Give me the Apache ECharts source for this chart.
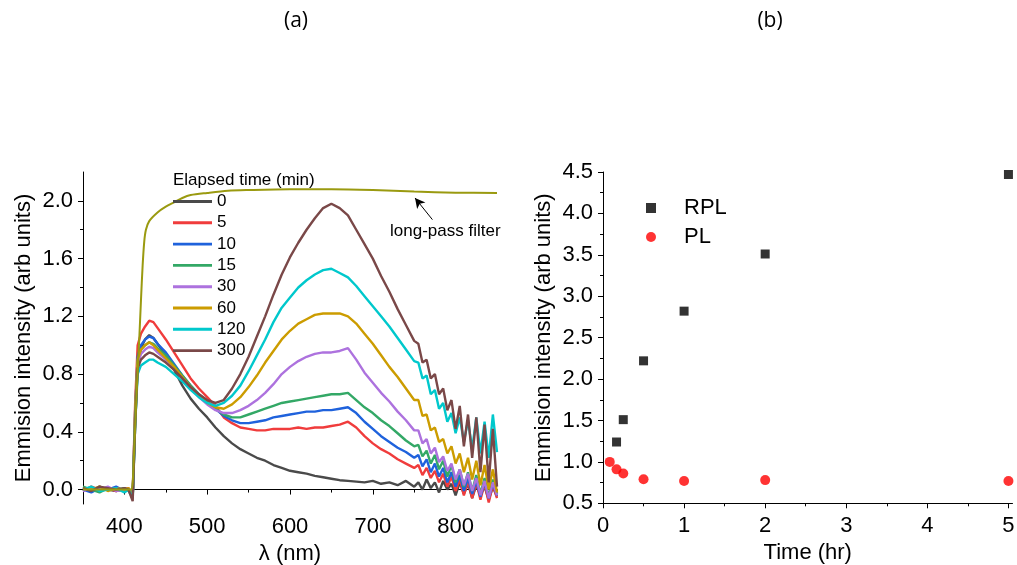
<!DOCTYPE html>
<html><head><meta charset="utf-8">
<script src="https://cdn.jsdelivr.net/npm/echarts@6/dist/echarts.min.js"></script>
<style>html,body{margin:0;padding:0;background:#fff}#c{width:1017px;height:565px}</style>
</head><body><div id="c"></div>
<script>
// ---- Panel (a) data ----
const wl = [350,360,370,380,390,400,405,410,413,416,420,425,430,435,
440,450,460,470,480,490,500,510,520,530,540,550,560,570,580,590,600,610,620,630,640,650,660,670,680,690,700,710,720,730,740,750,
755,760,765,770,775,780,785,790,795,800,805,810,815,820,825,830,835,840,845,850];
const seriesNames = ['0','5','10','15','30','60','120','300'];
const s0 = [0.01,-0.01,0.02,0.0,-0.01,0.01, 0.0,-0.05,0.45,0.85,0.98,1.04,1.07,1.05,
1.01,0.93,0.83,0.72,0.63,0.56,0.5,0.43,0.37,0.32,0.28,0.25,0.22,0.2,0.17,0.15,0.13,0.12,0.11,0.095,0.085,0.075,0.065,0.06,0.055,0.05,0.06,0.04,0.05,0.03,0.06,0.02,
0.05,0.0,0.07,0.01,0.05,-0.02,0.06,0.0,0.04,-0.04,0.05,-0.03,0.04,-0.06,0.03,-0.04,0.02,-0.07,0.02,-0.05];
const s5 = [-0.01,0.02,0.0,0.01,-0.01,0.0, 0.01,-0.04,0.6,1.0,1.08,1.13,1.17,1.16,
1.12,1.04,0.95,0.86,0.77,0.7,0.64,0.58,0.5,0.46,0.43,0.42,0.41,0.41,0.42,0.42,0.42,0.43,0.42,0.43,0.43,0.44,0.45,0.47,0.43,0.37,0.32,0.28,0.25,0.21,0.18,0.15,
0.17,0.1,0.15,0.08,0.13,0.05,0.11,0.02,0.09,-0.01,0.07,-0.04,0.06,-0.06,0.05,-0.07,0.04,-0.09,0.03,-0.06];
const s10 = [0.0,-0.02,0.01,0.0,0.02,-0.01, 0.0,-0.05,0.55,0.92,1.0,1.04,1.06,1.05,
1.01,0.95,0.87,0.79,0.72,0.66,0.61,0.56,0.51,0.48,0.46,0.46,0.47,0.48,0.5,0.51,0.52,0.53,0.54,0.54,0.55,0.55,0.56,0.57,0.53,0.47,0.42,0.37,0.33,0.29,0.26,0.22,
0.24,0.16,0.21,0.12,0.18,0.09,0.15,0.05,0.12,0.02,0.1,-0.01,0.08,-0.03,0.06,-0.05,0.05,-0.06,0.04,-0.04];
const s15 = [0.02,0.0,-0.02,0.01,0.0,0.01, -0.01,-0.06,0.5,0.88,0.97,1.0,1.02,1.01,
0.98,0.93,0.86,0.79,0.72,0.66,0.61,0.56,0.52,0.5,0.5,0.52,0.54,0.56,0.58,0.6,0.61,0.62,0.63,0.64,0.65,0.66,0.66,0.67,0.62,0.57,0.53,0.48,0.44,0.39,0.34,0.3,
0.31,0.23,0.27,0.18,0.24,0.14,0.2,0.09,0.17,0.05,0.14,0.02,0.12,-0.01,0.1,-0.03,0.08,-0.05,0.07,-0.03];
const s30 = [-0.01,0.01,0.0,0.02,-0.01,0.0, 0.0,-0.05,0.5,0.86,0.94,0.97,0.99,0.98,
0.95,0.9,0.84,0.77,0.7,0.64,0.59,0.55,0.53,0.53,0.55,0.58,0.62,0.67,0.73,0.8,0.85,0.89,0.92,0.94,0.95,0.95,0.96,0.98,0.9,0.81,0.74,0.67,0.61,0.54,0.48,0.41,
0.41,0.32,0.35,0.25,0.29,0.19,0.23,0.13,0.18,0.07,0.14,0.03,0.11,-0.01,0.08,-0.04,0.06,-0.06,0.05,-0.04];
const s60 = [0.01,0.0,0.02,-0.01,0.01,0.0, 0.01,-0.05,0.55,0.9,0.97,1.0,1.02,1.0,
0.97,0.91,0.85,0.78,0.71,0.65,0.6,0.57,0.56,0.59,0.64,0.71,0.79,0.88,0.96,1.04,1.1,1.15,1.18,1.21,1.22,1.22,1.22,1.2,1.15,1.08,1.01,0.93,0.85,0.78,0.7,0.62,
0.62,0.51,0.52,0.41,0.43,0.33,0.35,0.25,0.3,0.18,0.25,0.12,0.22,0.07,0.2,0.03,0.17,0.0,0.14,-0.02];
const s120 = [0.0,0.02,-0.01,0.0,0.01,-0.02, 0.0,-0.06,0.45,0.8,0.86,0.88,0.9,0.9,
0.88,0.85,0.8,0.75,0.69,0.64,0.6,0.58,0.6,0.65,0.72,0.82,0.93,1.04,1.16,1.26,1.33,1.4,1.45,1.49,1.52,1.53,1.5,1.47,1.41,1.34,1.27,1.2,1.13,1.05,0.97,0.89,
0.88,0.77,0.79,0.66,0.69,0.56,0.6,0.47,0.53,0.39,0.5,0.33,0.48,0.28,0.5,0.25,0.47,0.22,0.52,0.26];
const s300 = [0.01,-0.01,0.02,0.01,0.0,0.01, 0.0,-0.08,0.45,0.84,0.9,0.93,0.95,0.94,
0.92,0.88,0.83,0.77,0.71,0.66,0.62,0.6,0.62,0.7,0.8,0.92,1.06,1.2,1.35,1.49,1.61,1.71,1.8,1.88,1.95,1.98,1.95,1.9,1.8,1.7,1.6,1.48,1.37,1.25,1.14,1.03,
1.01,0.88,0.9,0.77,0.8,0.66,0.7,0.55,0.62,0.42,0.58,0.3,0.52,0.22,0.5,0.12,0.45,0.05,0.42,0.02];
const filterWl = [350,380,405,408,410,412,415,418,420,422,424,426,430,440,450,460,470,480,500,525,550,600,650,700,750,800,850];
const filterVal = [0.0,0.0,0.0,0.0,0.05,0.3,0.7,1.05,1.31,1.55,1.72,1.8,1.86,1.92,1.96,1.99,2.02,2.04,2.055,2.07,2.075,2.08,2.08,2.075,2.065,2.057,2.055];
const arrowFrom = [772, 1.87], arrowTo = [751, 2.02];
const xTicksA = [400,500,600,700,800], xMinorA = [350,450,550,650,750,850];
const yTicksA = [0,0.4,0.8,1.2,1.6,2.0], yMinorA = [0.2,0.6,1.0,1.4,1.8];
// ---- Panel (b) data ----
const timeRPL = [0.167,0.25,0.5,1,2,5];
const rpl = [1.24,1.51,2.22,2.82,3.51,4.47];
const timePL = [0.083,0.167,0.25,0.5,1,2,5];
const pl = [1.0,0.91,0.86,0.79,0.77,0.78,0.77];
const xTicksB = [0,1,2,3,4,5], xMinorB = [0.5,1.5,2.5,3.5,4.5];

const colors = ['#4a4a4a','#f03c3c','#1f62dc','#33a866','#ad72de','#cc9c00','#00c8cc','#7a4848'];
const spectra = [s0,s5,s10,s15,s30,s60,s120,s300];
const FF = 'Liberation Sans, Arial, sans-serif';
const zip = (a,b)=>a.map((v,i)=>[v,b[i]]);

const axisCommon = {axisLine:{show:true,lineStyle:{color:'#000',width:1}},splitLine:{show:false},
  axisLabel:{color:'#000',fontSize:22,fontFamily:FF},nameTextStyle:{color:'#000',fontSize:22,fontFamily:FF}};

const series = spectra.map((d,i)=>({name:seriesNames[i],type:'line',xAxisIndex:0,yAxisIndex:0,data:zip(wl,d),
  symbol:'none',lineStyle:{width:2.4,color:colors[i]},itemStyle:{color:colors[i]},silent:true,animation:false}));
series.push({name:'filter',type:'line',xAxisIndex:0,yAxisIndex:0,data:zip(filterWl,filterVal),symbol:'none',smooth:0.3,
  lineStyle:{width:2,color:'#9a9a10'},animation:false,
  markLine:{silent:true,symbol:['none','arrow'],symbolSize:[8,10],lineStyle:{color:'#000',width:1,type:'solid'},label:{show:false},
    data:[[{coord:arrowFrom},{coord:arrowTo}]],animation:false}});
series.push({name:'RPL',type:'scatter',xAxisIndex:2,yAxisIndex:2,data:zip(timeRPL,rpl),symbol:'rect',symbolSize:9,itemStyle:{color:'#000'},animation:false});
series.push({name:'PL',type:'scatter',xAxisIndex:2,yAxisIndex:2,data:zip(timePL,pl),symbol:'circle',symbolSize:10,itemStyle:{color:'#ff0000'},animation:false});

const minorAxis = (grid,min,max,vals,pos)=>({gridIndex:grid,type:'value',min:min,max:max,position:pos,axisLine:{show:false},
  axisLabel:{show:false},splitLine:{show:false},axisTick:{show:true,length:3,customValues:vals,lineStyle:{color:'#000'}}});

const option = {
  backgroundColor:'#fff',
  animation:false,
  grid:[
    {left:83,top:172,width:414,height:332,containLabel:false,outerBoundsMode:'none'},
    {left:603,top:172,width:409.5,height:331.3,containLabel:false,outerBoundsMode:'none'}
  ],
  xAxis:[
    Object.assign({},axisCommon,{gridIndex:0,type:'value',position:'bottom',min:350,max:850,name:'λ (nm)',nameLocation:'middle',nameGap:37,
      axisTick:{show:true,length:5,customValues:xTicksA,lineStyle:{color:'#000'}},
      axisLabel:Object.assign({},axisCommon.axisLabel,{margin:12,customValues:xTicksA})}),
    minorAxis(0,350,850,xMinorA,'bottom'),
    Object.assign({},axisCommon,{gridIndex:1,type:'value',position:'bottom',min:0,max:5.05,name:'Time (hr)',nameLocation:'middle',nameGap:37,
      axisTick:{show:true,length:5,customValues:xTicksB,lineStyle:{color:'#000'}},
      axisLabel:Object.assign({},axisCommon.axisLabel,{margin:12,customValues:xTicksB})}),
    minorAxis(1,0,5.05,xMinorB,'bottom')
  ],
  yAxis:[
    Object.assign({},axisCommon,{gridIndex:0,type:'value',position:'left',min:-0.1,max:2.2,name:'Emmision intensity (arb units)',nameLocation:'middle',nameGap:48,
      axisTick:{show:true,length:5,customValues:yTicksA,lineStyle:{color:'#000'}},
      axisLabel:Object.assign({},axisCommon.axisLabel,{margin:10,customValues:yTicksA,formatter:v=>v.toFixed(1)})}),
    minorAxis(0,-0.1,2.2,yMinorA,'left'),
    Object.assign({},axisCommon,{gridIndex:1,type:'value',position:'left',min:0.5,max:4.5,interval:0.5,name:'Emmision intensity (arb units)',nameLocation:'middle',nameGap:48,
      axisTick:{show:true,length:5,lineStyle:{color:'#000'}},minorTick:{show:true,splitNumber:2,length:3,lineStyle:{color:'#000'}},
      axisLabel:Object.assign({},axisCommon.axisLabel,{margin:10,formatter:v=>v.toFixed(1)})})
  ],
  legend:[
    {data:seriesNames,orient:'vertical',left:173,top:193,padding:0,itemWidth:39,itemHeight:16,itemGap:4.3,
      textStyle:{color:'#000',fontSize:17,fontFamily:FF,lineHeight:16},icon:'path://M0,6.5 L40,6.5 L40,9.5 L0,9.5 Z',selectedMode:false},
    {data:['RPL','PL'],orient:'vertical',left:646,top:197,padding:0,itemWidth:10,itemHeight:10,itemGap:7,
      textStyle:{color:'#000',fontSize:22,fontFamily:FF,padding:[0,0,0,23]},selectedMode:false}
  ],
  graphic:[
    {type:'text',left:173,top:172,style:{text:'Elapsed time (min)',fontSize:17,fontFamily:FF,fill:'#000'}},
    {type:'text',left:390,top:223,style:{text:'long-pass filter',fontSize:17,fontFamily:FF,fill:'#000'}},
    {type:'text',x:296,y:21,style:{text:'(a)',fontSize:21,fontFamily:'Open Sans, sans-serif',fill:'#000',align:'center',verticalAlign:'middle'}},
    {type:'text',x:770,y:21,style:{text:'(b)',fontSize:21,fontFamily:'Open Sans, sans-serif',fill:'#000',align:'center',verticalAlign:'middle'}}
  ],
  series:series
};
const chart = echarts.init(document.getElementById('c'),null,{renderer:'canvas'});
chart.setOption(option);
</script></body></html>
